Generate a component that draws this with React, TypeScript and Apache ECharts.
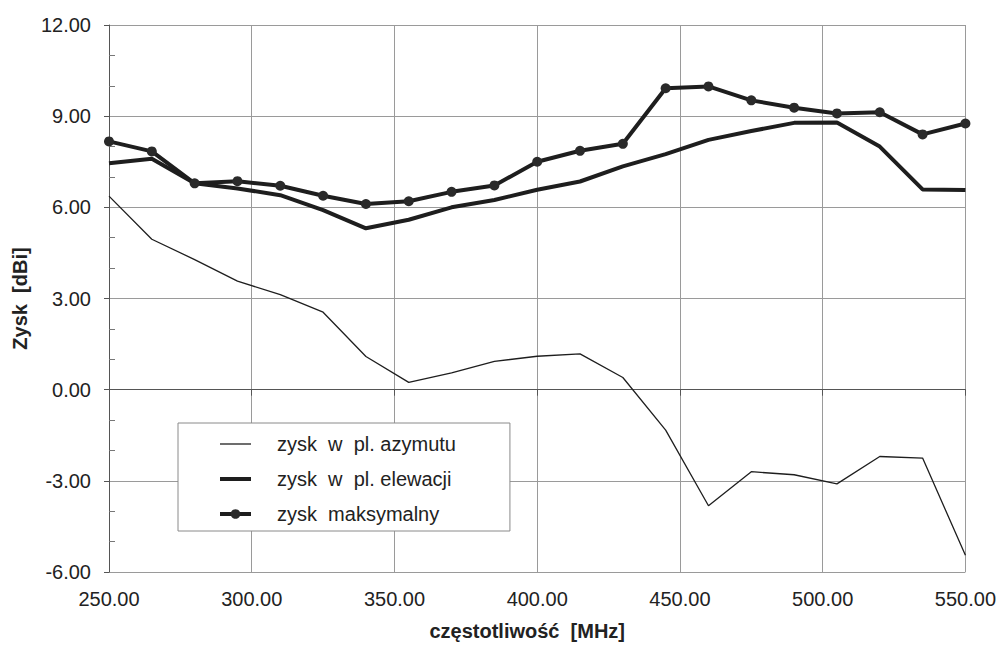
import React, { useEffect, useRef } from "react";
import * as echarts from "echarts";

const freq = [250, 265, 280, 295, 310, 325, 340, 355, 370, 385, 400, 415, 430, 445, 460, 475, 490, 505, 520, 535, 550];
const azymut = [6.37, 4.95, 4.28, 3.57, 3.13, 2.55, 1.09, 0.24, 0.55, 0.93, 1.1, 1.18, 0.4, -1.33, -3.82, -2.7, -2.8, -3.1, -2.2, -2.25, -5.45];
const elewacja = [7.45, 7.6, 6.79, 6.62, 6.4, 5.91, 5.31, 5.59, 6.0, 6.24, 6.58, 6.85, 7.35, 7.75, 8.22, 8.51, 8.78, 8.79, 8.0, 6.59, 6.57];
const maksymalny = [8.17, 7.84, 6.79, 6.86, 6.71, 6.38, 6.11, 6.2, 6.51, 6.72, 7.5, 7.86, 8.09, 9.92, 9.98, 9.52, 9.28, 9.09, 9.13, 8.4, 8.76];
const seriesNames = ["zysk  w  pl. azymutu", "zysk  w  pl. elewacji", "zysk  maksymalny"];
const xName = "częstotliwość  [MHz]";
const yName = "Zysk  [dBi]";

const pairs = (ys: number[]) => freq.map((f, i) => [f, ys[i]]);

export default function App() {
  const ref = useRef<HTMLDivElement>(null);
  useEffect(() => {
    if (!ref.current) return;
    const chart = echarts.init(ref.current, null, { renderer: "svg" });
    const font = "'Liberation Sans', Arial, sans-serif";
    const ink = "#222";
    const lineInk = "#1e1e1e";
    chart.setOption({
      animation: false,
      backgroundColor: "#fff",
      textStyle: { fontFamily: font },
      grid: { left: 109, right: 32, top: 25, bottom: 68, containLabel: false },
      legend: {
        orient: "vertical",
        left: 178,
        top: 423,
        selectedMode: false,
        data: [
          { name: seriesNames[0], itemStyle: { opacity: 0 }, lineStyle: { width: 1.3, color: lineInk } },
          { name: seriesNames[1], itemStyle: { opacity: 0 }, lineStyle: { width: 4, color: lineInk } },
          { name: seriesNames[2], lineStyle: { width: 4, color: lineInk } },
        ],
        itemWidth: 31,
        itemHeight: 12,
        itemGap: 13,
        padding: [10, 54, 6, 40],
        backgroundColor: "#fff",
        borderColor: "#8a8a8a",
        borderWidth: 1,
        textStyle: { fontFamily: font, fontSize: 20, color: ink, lineHeight: 22, padding: [0, 0, 0, 21] },
      },
      xAxis: {
        type: "value",
        min: 250,
        max: 550,
        interval: 50,
        name: xName,
        nameLocation: "middle",
        nameGap: 49,
        nameTextStyle: { fontFamily: font, fontSize: 20, fontWeight: "bold", color: ink, padding: [0, 20, 0, 0] },
        axisLine: { show: true, lineStyle: { color: "#555", width: 1 } },
        axisTick: { show: true, length: 6, lineStyle: { color: "#555" } },
        axisLabel: { fontFamily: font, fontSize: 20, color: ink, margin: 17, formatter: (v: number) => v.toFixed(2) },
        splitLine: { show: true, lineStyle: { color: "#9a9a9a", width: 1 } },
      },
      yAxis: {
        type: "value",
        min: -6,
        max: 12,
        interval: 3,
        name: yName,
        nameLocation: "middle",
        nameGap: 79,
        nameTextStyle: { fontFamily: font, fontSize: 20, fontWeight: "bold", color: ink },
        axisLine: { show: true, lineStyle: { color: "#555", width: 1 } },
        axisTick: { show: true, length: 5, lineStyle: { color: "#555" } },
        minorTick: { show: true, splitNumber: 3, length: -6, lineStyle: { color: "#777" } },
        axisLabel: { fontFamily: font, fontSize: 20, color: ink, margin: 18, formatter: (v: number) => v.toFixed(2) },
        splitLine: { show: true, lineStyle: { color: "#9a9a9a", width: 1 } },
      },
      series: [
        {
          name: seriesNames[0],
          type: "line",
          data: pairs(azymut),
          symbol: "none",
          lineStyle: { color: lineInk, width: 1.3 },
          itemStyle: { color: lineInk },
        },
        {
          name: seriesNames[1],
          type: "line",
          data: pairs(elewacja),
          symbol: "none",
          lineStyle: { color: lineInk, width: 4 },
          itemStyle: { color: lineInk },
        },
        {
          name: seriesNames[2],
          type: "line",
          data: pairs(maksymalny),
          symbol: "circle",
          symbolSize: 10,
          showSymbol: true,
          lineStyle: { color: lineInk, width: 4 },
          itemStyle: { color: "#2a2a2a", borderWidth: 0 },
        },
      ],
    });
    return () => chart.dispose();
  }, []);
  return (
    <div
      ref={ref}
      style={{ position: "fixed", left: 0, top: 0, width: 999, height: 646, background: "#fff" }}
    />
  );
}
